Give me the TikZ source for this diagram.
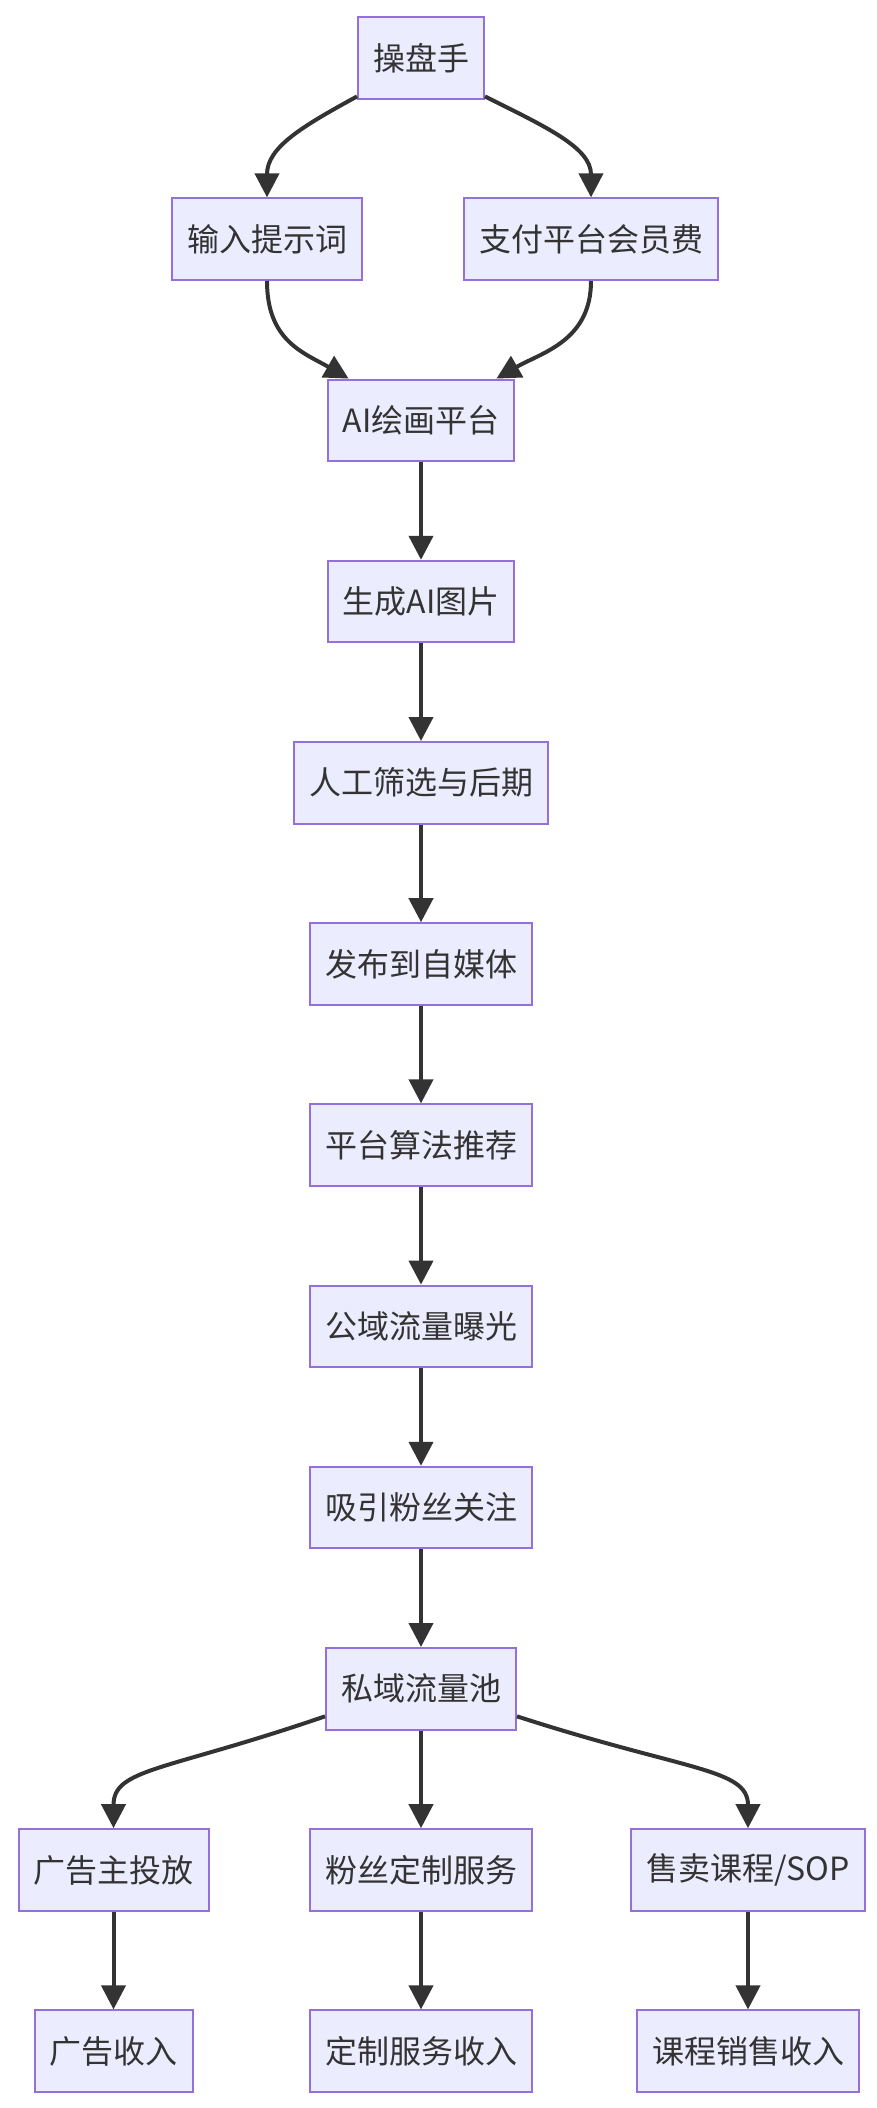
\documentclass[tikz,border=0pt]{standalone}
\usepackage{fontspec}
\setmainfont{Noto Sans CJK SC}
\usetikzlibrary{arrows.meta,calc}
\definecolor{nodefill}{HTML}{ECECFF}
\definecolor{nodeline}{HTML}{9370DB}
\definecolor{ink}{HTML}{333333}
\begin{document}
\begin{tikzpicture}[x=1pt,y=-1pt,
  box/.style={draw=nodeline, fill=nodefill, line width=2pt, minimum height=81.6pt,
    inner xsep=15pt, inner ysep=0pt, text=ink, font=\fontsize{32}{38}\selectfont},
  flow/.style={draw=ink, line width=4pt, -{Triangle[length=24pt,width=24pt]}}]
\useasboundingbox (0,0) rectangle (876,2108);
\node[box] (op) at (421,58) {操盘手};
\node[box] (in) at (267,239.2) {输入提示词};
\node[box] (pay) at (591,239.2) {支付平台会员费};
\node[box] (ai) at (421,420.4) {AI绘画平台};
\node[box] (gen) at (421,601.6) {生成AI图片};
\node[box] (sel) at (421,782.8) {人工筛选与后期};
\node[box] (pub) at (421,964) {发布到自媒体};
\node[box] (rec) at (421,1145.2) {平台算法推荐};
\node[box] (pubtr) at (421,1326.4) {公域流量曝光};
\node[box] (fans) at (421,1507.6) {吸引粉丝关注};
\node[box] (pool) at (421,1688.8) {私域流量池};
\node[box] (ad) at (113.5,1870) {广告主投放};
\node[box] (cus) at (421,1870) {粉丝定制服务};
\node[box] (course) at (748,1870) {售卖课程/SOP};
\node[box] (adinc) at (113.5,2051.2) {广告收入};
\node[box] (cusinc) at (421,2051.2) {定制服务收入};
\node[box] (courseinc) at (748,2051.2) {课程销售收入};

\draw[flow] (op.211) .. controls +(-55,30) and +(0,-50) .. (in.north);
\draw[flow] (op.-31) .. controls +(60,30) and +(0,-50) .. (pay.north);
\draw[flow] (in.south) .. controls +(0,60) and +(-45,-26) .. (ai.150);
\draw[flow] (pay.south) .. controls +(0,60) and +(45,-26) .. (ai.29);
\draw[flow] (ai) -- (gen);
\draw[flow] (gen) -- (sel);
\draw[flow] (sel) -- (pub);
\draw[flow] (pub) -- (rec);
\draw[flow] (rec) -- (pubtr);
\draw[flow] (pubtr) -- (fans);
\draw[flow] (fans) -- (pool);
\draw[flow] (pool.196) .. controls +(-160,55) and +(0,-60) .. (ad.north);
\draw[flow] (pool) -- (cus);
\draw[flow] (pool.-16) .. controls +(170,55) and +(0,-60) .. (course.north);
\draw[flow] (ad) -- (adinc);
\draw[flow] (cus) -- (cusinc);
\draw[flow] (course) -- (courseinc);
\end{tikzpicture}
\end{document}
